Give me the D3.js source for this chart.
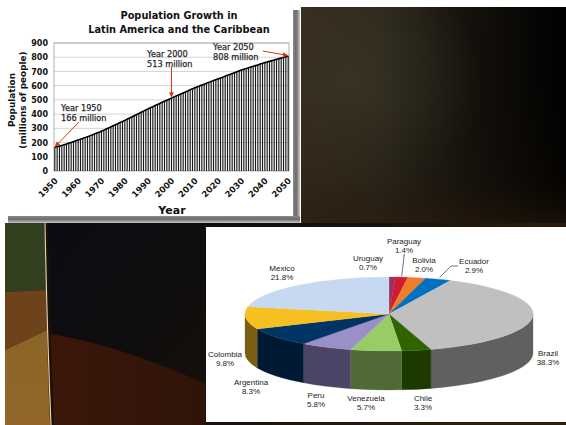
<!DOCTYPE html>
<html>
<head>
<meta charset="utf-8">
<script src="https://cdn.jsdelivr.net/npm/d3@7"></script>
<style>
  html, body { margin: 0; padding: 0; background: #ffffff; }
  svg { display: block; }
</style>
</head>
<body>
<svg id="chart" width="566" height="425"></svg>
<script>
// ---------------- DATA ----------------
const titleLines = ["Population Growth in", "Latin America and the Caribbean"];
const yTitleLines = ["Population", "(millions of people)"];
const xTitle = "Year";
const startYear = 1950;
// yearly population (millions), 1950..2050
const population = [
  166,170,175,180,185,190,196,201,207,212,
  218,224,229,235,241,247,254,260,267,273,
  280,287,295,302,310,318,325,333,341,348,
  356,364,372,380,388,396,404,413,421,429,
  437,445,452,460,467,475,483,490,498,505,
  513,520,527,535,542,549,556,563,571,578,
  585,591,598,604,610,617,623,629,636,642,
  648,654,660,667,673,679,685,691,698,704,
  710,715,720,726,731,736,741,746,752,757,
  762,767,771,776,781,785,790,794,799,803,
  808
];
const xTickLabels = ["1950","1960","1970","1980","1990","2000","2010","2020","2030","2040","2050"];
const yTickValues = [0,100,200,300,400,500,600,700,800,900];
const annoYears = [1950, 2000, 2050];
const annoValues = [166, 513, 808];
const annoText = [["Year 1950","166 million"],["Year 2000","513 million"],["Year 2050","808 million"]];

const countries = ["Uruguay","Paraguay","Bolivia","Ecuador","Brazil","Chile","Venezuela","Peru","Argentina","Colombia","Mexico"];
const shares = [0.7, 1.4, 2.0, 2.9, 38.3, 3.3, 5.7, 5.8, 8.3, 9.8, 21.8];
const topColors = ["#993366","#d01c32","#ef7d2c","#0070c0","#c0c0c0","#2f6400","#99cc66","#9b8fc8","#003366","#f6c022","#c6d9f0"];
const sideColors = ["#5c1e3d","#7c1020","#8f4a1a","#003f70","#606060","#1c3a00","#4f6a36","#4b4466","#001a33","#7b5e12","#76879c"];

// ---------------- SETUP ----------------
const svg = d3.select("#chart");
const defs = svg.append("defs");

function linGrad(id, x1, y1, x2, y2, stops) {
  const g = defs.append("linearGradient").attr("id", id)
    .attr("x1", x1).attr("y1", y1).attr("x2", x2).attr("y2", y2);
  stops.forEach(s => g.append("stop").attr("offset", s[0]).attr("stop-color", s[1]).attr("stop-opacity", s[2] == null ? 1 : s[2]));
}
linGrad("trG", 0, 0, 1, 0, [[0,"#372b1c"],[0.3,"#2c271b"],[0.65,"#14110c"],[1,"#000000"]]);
linGrad("trV", 0, 0, 0, 1, [[0,"#000",0],[0.8,"#1c1208",0.2],[1,"#2a1a0c",0.6]]);
const rg = defs.append("radialGradient").attr("id","trR").attr("cx",0.2).attr("cy",0.35).attr("r",0.5);
rg.append("stop").attr("offset",0).attr("stop-color","#4a4733").attr("stop-opacity",0.45);
rg.append("stop").attr("offset",1).attr("stop-color","#4a4733").attr("stop-opacity",0);
linGrad("blTop", 0, 0, 1, 0.3, [[0,"#0a0b15"],[0.45,"#110e0c"],[1,"#2c1d0d"]]);
linGrad("blBot", 0, 0, 1, 0, [[0,"#3c170a"],[1,"#2e1408"]]);
linGrad("blOchre", 0, 0, 0, 1, [[0,"#8a6426"],[1,"#93672a"]]);
linGrad("shR", 0, 0, 1, 0, [[0,"#8a8a8a"],[0.45,"#6a6a6a"],[1,"#c8c8c8"]]);
linGrad("shB", 0, 0, 0, 1, [[0,"#8a8a8a"],[0.45,"#6a6a6a"],[1,"#c8c8c8"]]);

// ---------------- BACKGROUND ----------------
svg.append("rect").attr("x",301).attr("y",7).attr("width",265).attr("height",219).attr("fill","url(#trG)");
svg.append("rect").attr("x",301).attr("y",7).attr("width",265).attr("height",219).attr("fill","url(#trR)");
svg.append("rect").attr("x",301).attr("y",7).attr("width",265).attr("height",219).attr("fill","url(#trV)");

const bl = svg.append("g");
bl.append("rect").attr("x",5).attr("y",223).attr("width",561).attr("height",202).attr("fill","url(#blTop)");
bl.append("path").attr("d","M46,333 Q120,345 206,384 L206,425 L49,425 Z").attr("fill","url(#blBot)");
bl.append("path").attr("d","M5,223 L44,223 Q46,255 46,290 L5,292 Z").attr("fill","#33401f");
bl.append("path").attr("d","M5,292 L46,290 Q47,310 47,330 L5,350 Z").attr("fill","#6e431c");
bl.append("path").attr("d","M5,350 L47,330 Q48,380 50,425 L5,425 Z").attr("fill","url(#blOchre)");
bl.append("path").attr("d","M45,223 Q47,330 51,425").attr("fill","none").attr("stroke","#1a1208").attr("stroke-width",2.5).attr("transform","translate(1.8,0)");
bl.append("path").attr("d","M45,223 Q47,330 51,425").attr("fill","none").attr("stroke","#f2d6b4").attr("stroke-width",1.1);

// ---------------- BAR CHART PANEL ----------------
svg.append("rect").attr("x",293).attr("y",10).attr("width",7).attr("height",213).attr("fill","url(#shR)");
svg.append("rect").attr("x",8).attr("y",216).attr("width",292).attr("height",7).attr("fill","url(#shB)");
svg.append("rect").attr("x",0).attr("y",0).attr("width",293).attr("height",216).attr("fill","#ffffff");

const plot = { left: 54, top: 43, right: 289, bottom: 171 };
const years = population.map((_, i) => startYear + i);
const x = d3.scaleBand().domain(years).range([plot.left, plot.right]).paddingInner(0.5).paddingOuter(0.1);
const y = d3.scaleLinear().domain([0, 900]).range([plot.bottom, plot.top]);

const g1 = svg.append("g");
g1.append("g").selectAll("line").data(yTickValues.slice(1)).join("line")
  .attr("x1", plot.left).attr("x2", plot.right)
  .attr("y1", d => y(d)).attr("y2", d => y(d))
  .attr("stroke", "#d4d4d4").attr("stroke-width", 1);
g1.append("rect").attr("x", plot.left).attr("y", plot.top)
  .attr("width", plot.right - plot.left).attr("height", plot.bottom - plot.top)
  .attr("fill", "none").attr("stroke", "#b0b0b0").attr("stroke-width", 1);

g1.append("g").selectAll("rect").data(population).join("rect")
  .attr("x", (d, i) => x(years[i]))
  .attr("width", x.bandwidth())
  .attr("y", d => y(d))
  .attr("height", d => y(0) - y(d))
  .attr("fill", "#1a1a1a");

g1.append("path").datum(population)
  .attr("d", d3.line().x((d, i) => x(years[i]) + x.bandwidth() / 2).y(d => y(d)).curve(d3.curveMonotoneX))
  .attr("fill", "none").attr("stroke", "#000").attr("stroke-width", 1.6);

const yAxis = g1.append("g").attr("transform", `translate(${plot.left},0)`)
  .call(d3.axisLeft(y).tickValues(yTickValues).tickSize(0).tickPadding(6));
yAxis.select(".domain").remove();
yAxis.selectAll("text").attr("font-family", "DejaVu Sans, Verdana, sans-serif")
  .attr("font-weight", "bold").attr("font-size", "8px").attr("fill", "#111");

g1.append("g").selectAll("text").data(xTickLabels).join("text")
  .attr("transform", d => `translate(${x(+d) + x.bandwidth() / 2 - 1},${plot.bottom + 6}) rotate(-45)`)
  .attr("text-anchor", "end").attr("dy", "0.75em")
  .attr("font-family", "DejaVu Sans, Verdana, sans-serif").attr("font-weight", "bold")
  .attr("font-size", "8.4px").attr("fill", "#111")
  .text(d => d);

g1.append("g").selectAll("text").data(titleLines).join("text")
  .attr("x", 179).attr("y", (d, i) => 19 + i * 14)
  .attr("text-anchor", "middle")
  .attr("font-family", "DejaVu Sans, Verdana, sans-serif").attr("font-weight", "bold")
  .attr("font-size", "9.8px").attr("fill", "#111").text(d => d);

g1.append("text").attr("x", 172).attr("y", 214).attr("text-anchor", "middle")
  .attr("font-family", "DejaVu Sans, Verdana, sans-serif").attr("font-weight", "bold")
  .attr("font-size", "11px").attr("fill", "#111").text(xTitle);

g1.append("g").selectAll("text").data(yTitleLines).join("text")
  .attr("transform", (d, i) => `translate(${15 + i * 11},100) rotate(-90)`)
  .attr("text-anchor", "middle")
  .attr("font-family", "DejaVu Sans, Verdana, sans-serif").attr("font-weight", "bold")
  .attr("font-size", "8.9px").attr("fill", "#111").text(d => d);

const annoLayout = [
  { tx: 61, ty: 111, from: [79, 122] },
  { tx: 147, ty: 57, from: null },
  { tx: 213, ty: 50, from: [263, 51] }
];
defs.append("marker").attr("id", "arr").attr("viewBox", "0 0 10 10").attr("refX", 9).attr("refY", 5)
  .attr("markerWidth", 6).attr("markerHeight", 6).attr("orient", "auto")
  .append("path").attr("d", "M0,1 L10,5 L0,9 Z").attr("fill", "#d63a1a");
annoYears.forEach((yr, k) => {
  const L = annoLayout[k];
  const px = x(yr) + x.bandwidth() / 2;
  const py = y(annoValues[k]);
  const from = L.from || [px, 67];
  g1.append("line").attr("x1", from[0]).attr("y1", from[1]).attr("x2", px).attr("y2", py - 0.5)
    .attr("stroke", "#d63a1a").attr("stroke-width", 1).attr("marker-end", "url(#arr)");
  annoText[k].forEach((t, j) => {
    g1.append("text").attr("x", L.tx).attr("y", L.ty + j * 9.5)
      .attr("font-family", "DejaVu Sans, Verdana, sans-serif")
      .attr("font-size", "8.2px").attr("fill", "#2a2a2a")
      .attr("stroke", "#2a2a2a").attr("stroke-width", 0.25).text(t);
  });
});

// ---------------- PIE PANEL ----------------
svg.append("rect").attr("x", 206).attr("y", 227).attr("width", 360).attr("height", 195).attr("fill", "#ffffff");

const cx = 389, cy = 314, rx = 144, ry = 37, depth = 39;
const pie = d3.pie().sort(null).value(d => d).startAngle(0).endAngle(2 * Math.PI);
const arcs = pie(shares);
const pt = (a, dy = 0) => [cx + rx * Math.sin(a), cy - ry * Math.cos(a) + dy];
const gp = svg.append("g");

arcs.forEach((a, i) => {
  const s = Math.max(a.startAngle, Math.PI / 2);
  const e = Math.min(a.endAngle, 3 * Math.PI / 2);
  if (e <= s) return;
  const p0 = pt(s), p1 = pt(e), q0 = pt(s, depth), q1 = pt(e, depth);
  const large = (e - s) > Math.PI ? 1 : 0;
  gp.append("path")
    .attr("d", `M${p0}A${rx},${ry} 0 ${large} 1 ${p1}L${q1}A${rx},${ry} 0 ${large} 0 ${q0}Z`)
    .attr("fill", sideColors[i]).attr("stroke", sideColors[i]).attr("stroke-width", 0.3);
});
arcs.forEach((a, i) => {
  const p0 = pt(a.startAngle), p1 = pt(a.endAngle);
  const large = (a.endAngle - a.startAngle) > Math.PI ? 1 : 0;
  gp.append("path")
    .attr("d", `M${cx},${cy}L${p0}A${rx},${ry} 0 ${large} 1 ${p1}Z`)
    .attr("fill", topColors[i]).attr("stroke", topColors[i]).attr("stroke-width", 0.3);
});

const labelPos = [
  [368, 258], [404, 241], [424, 260], [474, 261], [548, 353], [423, 398],
  [366, 398], [316, 395], [251, 382], [225, 354], [282, 268]
];
countries.forEach((c, i) => {
  const [lx, ly] = labelPos[i];
  const t = gp.append("text").attr("x", lx).attr("y", ly + 3)
    .attr("text-anchor", "middle")
    .attr("font-family", "Liberation Sans, Arial, sans-serif")
    .attr("font-size", "8px").attr("fill", "#222");
  t.append("tspan").attr("x", lx).text(c);
  t.append("tspan").attr("x", lx).attr("dy", 9.2).text(d3.format(".1f")(shares[i]) + "%");
});
gp.append("polyline").attr("points", "404.3,254 401.7,276.5")
  .attr("fill", "none").attr("stroke", "#333").attr("stroke-width", 0.7);
gp.append("polyline").attr("points", "458,266 451,266 439.5,277.5")
  .attr("fill", "none").attr("stroke", "#333").attr("stroke-width", 0.7);
</script>
</body>
</html>
